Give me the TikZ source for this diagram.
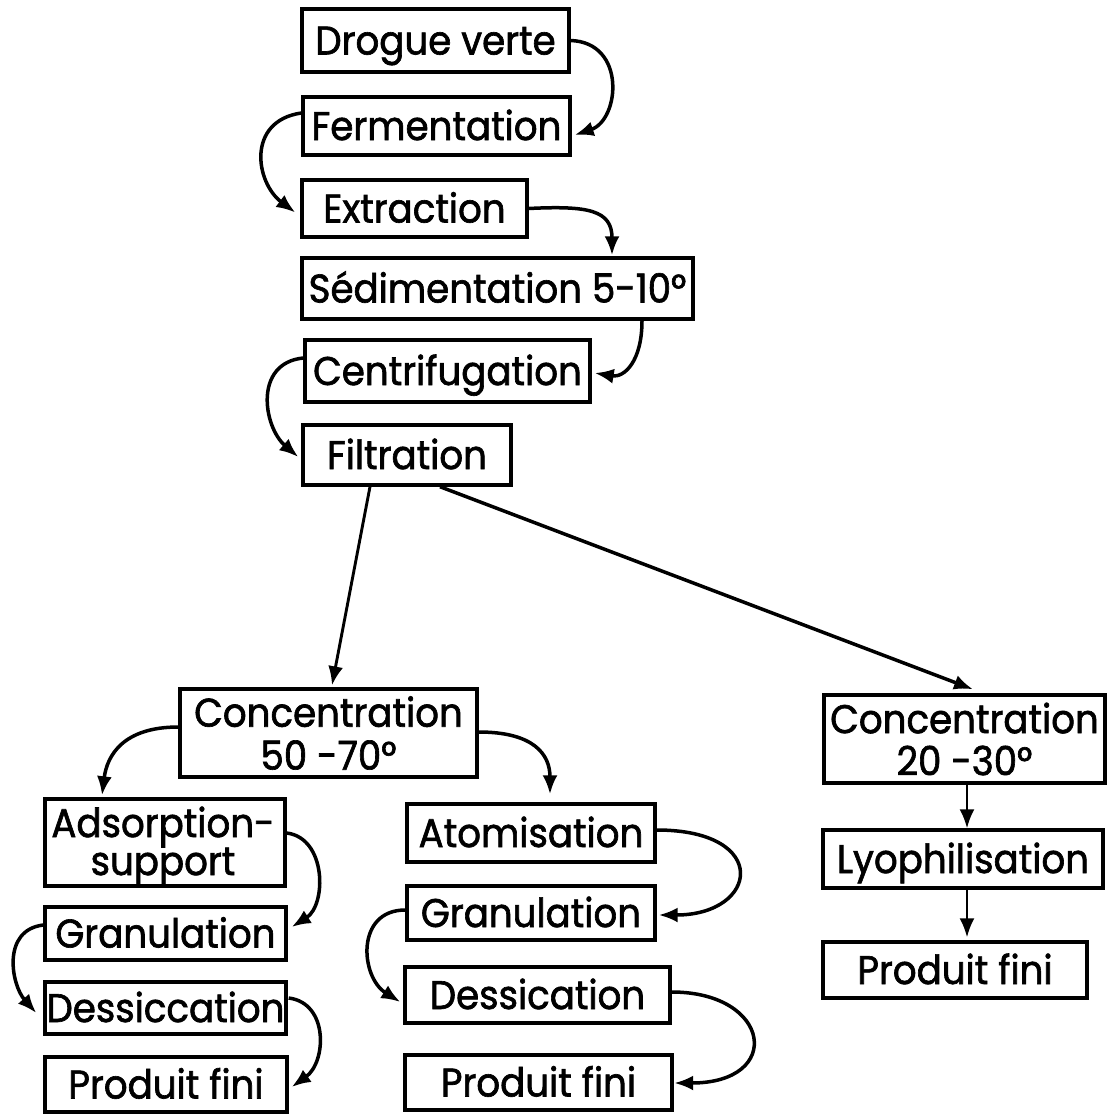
\documentclass[tikz,border=0pt]{standalone}
\usepackage{fontspec}
\setmainfont{Poppins}[FakeStretch=0.93,FakeBold=1.6]
\usetikzlibrary{arrows.meta,calc}
\begin{document}
\begin{tikzpicture}[x=1pt,y=-1pt,
  box/.style={draw, line width=3.4pt, inner sep=0pt, align=center,
    font=\fontsize{40}{43}\selectfont},
  one/.style={text height=28pt, text depth=0pt},
  txt/.style={inner sep=0pt, align=center, font=\fontsize{40}{38}\selectfont},
  arr/.style={line width=3.5pt, -{Latex[length=19pt,width=15pt]}}
]
\useasboundingbox (0,0) rectangle (1107,1116);
\fill[white] (0,0) rectangle (1107,1116);

% main line of treatment
\node[box, one, minimum width=267pt, minimum height=63pt] (drogue) at (435.5,40.5) {Drogue verte};
\node[box, one, minimum width=267pt, minimum height=58pt] (ferm)   at (436.5,126)  {Fermentation};
\node[box, one, minimum width=225pt, minimum height=57pt] (extr)   at (414.5,208.5) {Extraction};
\node[box, one, minimum width=391pt, minimum height=61pt] (sedi)   at (497.5,288.5) {Sédimentation 5-10°};
\node[box, one, minimum width=285pt, minimum height=62pt] (centri) at (447.5,371)  {Centrifugation};
\node[box, one, minimum width=208pt, minimum height=60pt] (filt)   at (407,455)    {Filtration};

% the two concentrations
\node[box, minimum width=297pt, minimum height=88pt] (conc1) at (328.5,733) {Concentration\\50 -70°};
\node[box, minimum width=281pt, minimum height=88pt] (conc2) at (964.5,739) {};
\node[txt, font=\fontsize{40}{42}\selectfont] (conc2t) at (964.5,739) {Concentration\\20 -30°};

% left branch
\node[box, minimum width=240pt, minimum height=87pt] (adsorp) at (165,842.5) {};
\node[txt] (adsorpt) at (163,846) {Adsorption-\\support};
\node[box, one, minimum width=241pt, minimum height=53pt] (granL)  at (165.5,933.5) {Granulation};
\node[box, one, minimum width=241pt, minimum height=52pt] (dessL)  at (165.5,1008) {Dessiccation};
\node[box, one, minimum width=242pt, minimum height=55pt] (prodL)  at (166,1084.5) {Produit fini};

% middle branch
\node[box, one, minimum width=248pt, minimum height=58pt] (atom)  at (531,833)    {Atomisation};
\node[box, one, minimum width=248pt, minimum height=54pt] (granM) at (531,913)    {Granulation};
\node[box, one, minimum width=265pt, minimum height=56pt] (dessM) at (537.5,995)  {Dessication};
\node[box, one, minimum width=267pt, minimum height=55pt] (prodM) at (538.5,1082.5) {Produit fini};

% right branch
\node[box, one, minimum width=280pt, minimum height=58pt] (lyo)   at (963,859) {Lyophilisation};
\node[box, one, minimum width=264pt, minimum height=56pt] (prodR) at (955,970) {Produit fini};

% curved links of the main line
\draw[arr] (drogue.east) .. controls +(56,2) and +(45,-15) .. ($(ferm.east)+(3,9)$);
\draw[arr] ($(ferm.west)+(0,-13)$) .. controls +(-55,8) and +(-40,-30) .. ($(extr.west)+(-5,4)$);
\draw[arr] (extr.east) .. controls +(60,-3) and +(0,-45) .. ($(sedi.north)+(114.5,-1)$);
\draw[arr] ($(sedi.south)+(144.5,0)$) .. controls +(0,40) and +(30,5) .. ($(centri.east)+(3,2)$);
\draw[arr] ($(centri.west)+(0,-13)$) .. controls +(-50,5) and +(-35,-30) .. ($(filt.west)+(-3,2)$);

% split after filtration
\draw[arr, line width=2.9pt] ($(filt.south)+(-37,0)$) -- ($(conc1.north)+(3.5,-2)$);
\draw[arr] ($(filt.south)+(33,0)$) -- ($(conc2.north)+(8.5,-4)$);

% branches of the first concentration
\draw[arr] ($(conc1.west)+(0,-6)$) .. controls +(-55,0) and +(5,-40) .. ($(adsorp.north)+(-63,-2)$);
\draw[arr] ($(conc1.east)+(0,-1)$) .. controls +(55,0) and +(0,-40) .. ($(atom.north)+(19,-8)$);

% left branch links
\draw[arr] ($(adsorp.east)+(0,-9.5)$) .. controls +(40,5) and +(35,-22) .. ($(granL.east)+(4,-6.5)$);
\draw[arr] ($(granL.west)+(0,-8.5)$) .. controls +(-42,5) and +(-25,-28) .. ($(dessL.west)+(-7,5)$);
\draw[arr] ($(dessL.east)+(1,-10)$) .. controls +(40,5) and +(35,-25) .. ($(prodL.east)+(3,2.5)$);

% middle branch links
\draw[arr] ($(atom.east)+(0,-3)$) .. controls +(115,0) and +(100,0) .. ($(granM.east)+(2,2)$);
\draw[arr] ($(granM.west)+(0,-3)$) .. controls +(-50,0) and +(-40,-25) .. ($(dessM.west)+(-3,7)$);
\draw[arr] ($(dessM.east)+(0,-3)$) .. controls +(100,0) and +(110,0) .. ($(prodM.east)+(0.5,0.5)$);

% right branch links
\draw[arr, line width=2.4pt] ($(conc2.south)+(2.5,0)$) -- ($(conc2.south |- lyo.north)+(2.5,0)$);
\draw[arr, line width=2.4pt] ($(lyo.south)+(4,0)$) -- ($(lyo.south |- prodR.north)+(4,-3)$);
\end{tikzpicture}
\end{document}
